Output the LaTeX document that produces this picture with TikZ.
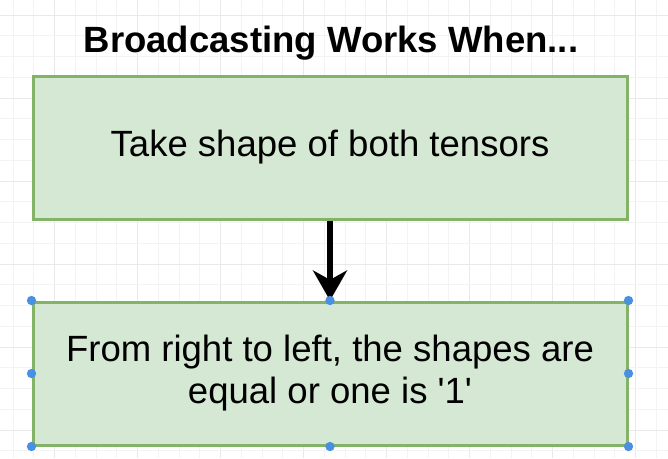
\documentclass[tikz,border=0pt]{standalone}
\usepackage{fontspec}
\setmainfont{Liberation Sans}
\usetikzlibrary{arrows.meta}

\definecolor{boxfill}{HTML}{D5E8D4}
\definecolor{boxline}{HTML}{82B366}
\definecolor{handleblue}{HTML}{4A90E2}
\definecolor{gridminor}{HTML}{F3F3F3}
\definecolor{gridmajor}{HTML}{E9E9E9}

\tikzset{
  stepbox/.style={draw=boxline, fill=boxfill, line width=2.25pt,
    minimum width=445.5pt, minimum height=107.25pt, align=center,
    inner sep=0pt, font=\fontsize{27.4}{31.5}\selectfont},
  handle/.style={fill=handleblue, draw=none},
}

\begin{document}
\begin{tikzpicture}[x=0.75pt,y=0.75pt,yscale=-1,xscale=1]
\useasboundingbox (0,0) rectangle (668,458);
\fill[white] (0,0) rectangle (668,458);

%Grid
\foreach \k in {0,...,31} {
  \pgfmathtruncatemacro{\m}{mod(\k,4)}
  \ifnum\m=2 \draw[gridmajor, line width=0.75pt] ({13+20.75*\k},0) -- ({13+20.75*\k},458);
  \else \draw[gridminor, line width=0.75pt] ({13+20.75*\k},0) -- ({13+20.75*\k},458); \fi
}
\foreach \k in {0,...,21} {
  \pgfmathtruncatemacro{\m}{mod(\k,4)}
  \ifnum\m=0 \draw[gridmajor, line width=0.75pt] (0,{15+20.75*\k}) -- (668,{15+20.75*\k});
  \else \draw[gridminor, line width=0.75pt] (0,{15+20.75*\k}) -- (668,{15+20.75*\k}); \fi
}

% Text Node
\node[anchor=base, inner sep=0pt, font=\fontsize{27.4}{31.5}\selectfont\bfseries] (title) at (331,52) {Broadcasting Works When...};

%Shape: Rectangle
\node[stepbox] (shape) at (330,147.5) {Take shape of both tensors};
%Shape: Rectangle
\node[stepbox] (rule) at (330,373.5) {From right to left, the shapes are\\equal or one is \textquotesingle 1\textquotesingle};

%Straight Lines
\draw[line width=4.5pt, -{Stealth[length=22.5pt, width=25.5pt, inset=7pt]}] (shape.south) -- (rule.north);

%Handles
\foreach \a in {north west,north,north east,west,east,south west,south,south east}
  \fill[handle] (rule.\a) circle (3.5pt);

\end{tikzpicture}
\end{document}
